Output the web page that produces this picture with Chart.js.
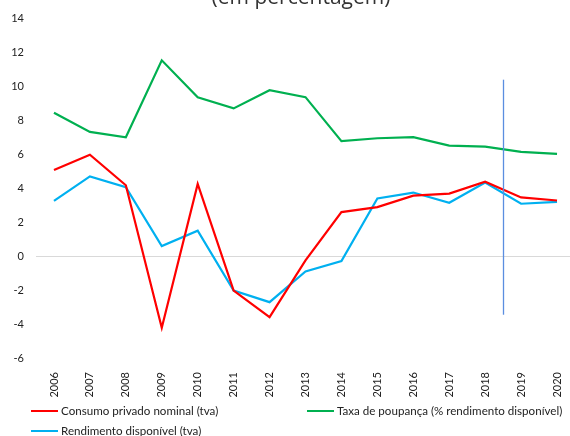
<!DOCTYPE html>
<html>
<head>
<meta charset="utf-8">
<script src="https://cdn.jsdelivr.net/npm/chart.js@4"></script>
<style>
    html, body { margin: 0; padding: 0; background: #fff; overflow: hidden; width: 570px; height: 436px; }
    #wrap { position: absolute; left: 0; top: 0; width: 575px; height: 436px; }
    #title { position: absolute; left: 0; width: 602px; top: -18px; text-align: center;
             font-family: "Open Sans", sans-serif; font-size: 21px; color: #333; white-space: nowrap; }
    .leg { position: absolute; font-family: Lato, sans-serif; font-size: 11.6px; color: #222; white-space: nowrap; }
    .leg span.ln { position: absolute; left: 0; top: 50%; width: 27px; height: 2px; margin-top: -1px; }
    .leg span.tx { position: absolute; left: 30px; top: 0; line-height: 16px; }
</style>
</head>
<body>
<div id="wrap"><canvas id="chart"></canvas></div>
<div id="title">(em percentagem)</div>
<div id="legend"></div>

<script>
const years = ['2006','2007','2008','2009','2010','2011','2012','2013','2014','2015','2016','2017','2018','2019','2020'];

const consumo = [5.08, 5.98, 4.18, -4.22, 4.26, -2.03, -3.59, -0.25, 2.6, 2.89, 3.57, 3.69, 4.39, 3.46, 3.28];
const poupanca = [8.45, 7.32, 7.01, 11.54, 9.36, 8.71, 9.78, 9.37, 6.78, 6.95, 7.01, 6.52, 6.46, 6.15, 6.03];
const rendimento = [3.26, 4.7, 4.06, 0.6, 1.5, -2.03, -2.71, -0.9, -0.29, 3.4, 3.75, 3.15, 4.34, 3.09, 3.2];

const seriesNames = ['Consumo privado nominal (tva)', 'Taxa de poupança (% rendimento disponível)', 'Rendimento disponível (tva)'];
const seriesColors = ['#ff0000', '#00b050', '#00b0f0'];

// vertical marker between 2018 and 2019
const markerAfter = 12;
const markerTop = 10.4;
const markerBottom = -3.45;

const markerLine = {
    id: 'markerLine',
    afterDatasetsDraw(chart) {
        const xs = chart.scales.x, ys = chart.scales.y;
        const x = Math.round((xs.getPixelForValue(markerAfter) + xs.getPixelForValue(markerAfter + 1)) / 2) + 0.5;
        const ctx = chart.ctx;
        ctx.save();
        ctx.strokeStyle = '#5b8ee0';
        ctx.lineWidth = 1.3;
        ctx.beginPath();
        ctx.moveTo(x, ys.getPixelForValue(markerTop));
        ctx.lineTo(x, ys.getPixelForValue(markerBottom));
        ctx.stroke();
        ctx.restore();
    }
};

const values = [consumo, poupanca, rendimento];
const datasets = values.map((v, i) => ({
    label: seriesNames[i],
    data: v,
    borderColor: seriesColors[i],
    backgroundColor: seriesColors[i],
    borderWidth: 2.2,
    pointRadius: 0,
    tension: 0,
    fill: false
}));

Chart.defaults.font.family = 'Lato, sans-serif';
Chart.defaults.color = '#333';

new Chart(document.getElementById('chart'), {
    type: 'line',
    data: { labels: years, datasets: datasets },
    options: {
        responsive: true,
        maintainAspectRatio: false,
        animation: false,
        layout: { padding: { top: 18, right: 0, bottom: 0, left: 0 } },
        plugins: {
            legend: { display: false },
            tooltip: { enabled: false }
        },
        scales: {
            x: {
                offset: true,
                border: { display: false },
                grid: { display: false },
                ticks: {
                    autoSkip: false,
                    minRotation: 90,
                    maxRotation: 90,
                    padding: 6,
                    font: { size: 11 },
                    color: '#222'
                },
                afterFit(scale) {
                    scale.height = 78;
                    scale.paddingLeft = 0;
                    scale.paddingRight = 0;
                }
            },
            y: {
                min: -6,
                max: 14,
                border: { display: false },
                grid: {
                    drawTicks: false,
                    color: ctx => ctx.tick && ctx.tick.value === 0 ? '#d9d9d9' : 'rgba(0,0,0,0)'
                },
                ticks: {
                    stepSize: 2,
                    padding: 12,
                    font: { size: 11 },
                    color: '#222'
                },
                afterFit(scale) {
                    scale.width = 36;
                }
            }
        }
    },
    plugins: [markerLine]
});

// legend in two columns, as in the original
const legendPos = [[31, 403], [307, 403], [31, 423]];
const legend = document.getElementById('legend');
seriesNames.forEach((name, i) => {
    const d = document.createElement('div');
    d.className = 'leg';
    d.style.left = legendPos[i][0] + 'px';
    d.style.top = legendPos[i][1] + 'px';
    d.style.height = '16px';
    d.innerHTML = `<span class="ln" style="background:${seriesColors[i]}"></span><span class="tx">${name}</span>`;
    legend.appendChild(d);
});
</script>
</body>
</html>
